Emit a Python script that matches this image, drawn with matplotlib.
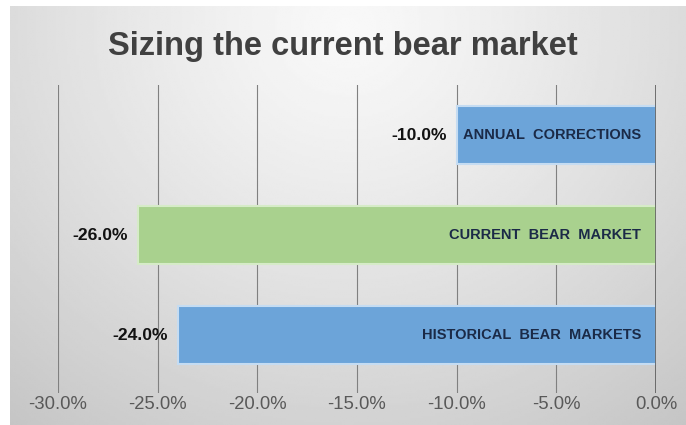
import numpy as np
import matplotlib.pyplot as plt

# Bear market sizes (percent decline)
categories = ['HISTORICAL  BEAR  MARKETS', 'CURRENT  BEAR  MARKET', 'ANNUAL  CORRECTIONS']
values = [-24.0, -26.0, -10.0]
bar_colors = ['#6ca4d9', '#a9d18e', '#6ca4d9']
edge_colors = ['#c5dcf2', '#d6ebc8', '#c5dcf2']
xticks = [-30, -25, -20, -15, -10, -5, 0]

W, H = 686, 425
fig = plt.figure(figsize=(W / 100, H / 100), dpi=100)
fig.patch.set_facecolor('white')

# soft gray background, lighter towards the top centre
bg = fig.add_axes([10 / W, 0, 1 - 10 / W, 1 - 6 / H])
yy, xx = np.mgrid[0:1:200j, 0:1:300j]
d = np.sqrt(((xx - 0.5) / 0.7) ** 2 + ((yy - 0.05) / 1.05) ** 2)
shade = 0.975 - 0.17 * np.clip(d, 0, 1.2) ** 1.2
bg.imshow(shade, cmap='gray', vmin=0, vmax=1, aspect='auto',
          extent=[0, 1, 1, 0], interpolation='bilinear')
bg.axis('off')

ax = fig.add_axes([58 / W, 32 / H, (656 - 58) / W, 308 / H])
ax.patch.set_alpha(0)
ypos = np.arange(len(categories))
ax.barh(ypos, values, height=0.58, color=bar_colors,
        edgecolor=edge_colors, linewidth=1.5, zorder=3)

ax.set_xlim(-30, 0)
ax.set_ylim(-0.58, 2.5)
ax.set_xticks(xticks)
ax.set_xticklabels([f'{t:.1f}%' for t in xticks])
ax.set_yticks([])
for t in xticks[:-1]:
    ax.axvline(t, color='#808080', lw=0.8, zorder=1)
ax.axvline(0, color='#4d4d4d', lw=1.8, zorder=4)
for s in ax.spines.values():
    s.set_visible(False)
ax.tick_params(axis='x', length=0, pad=2, labelcolor='#595959')
for lbl in ax.get_xticklabels():
    lbl.set_family(['Liberation Sans', 'DejaVu Sans'])
    lbl.set_fontsize(13.3)

for y, v, c in zip(ypos, values, categories):
    ax.text(v - 0.5, y, f'{v:.1f}%', ha='right', va='center',
            fontsize=12.6, fontweight='bold', color='#111111',
            family=['Liberation Sans', 'DejaVu Sans'], zorder=5)
    ax.text(-0.75, y, c, ha='right', va='center', fontsize=10.5,
            fontweight='bold', color='#1b2a47',
            family=['Liberation Sans', 'DejaVu Sans'], zorder=5)

fig.text(343 / W, 1 - 47 / H, 'Sizing the current bear market', ha='center',
         va='center', fontsize=23.5, fontweight='bold', color='#404040',
         family=['Liberation Sans', 'DejaVu Sans'])

fig.savefig('out.png', dpi=100)
